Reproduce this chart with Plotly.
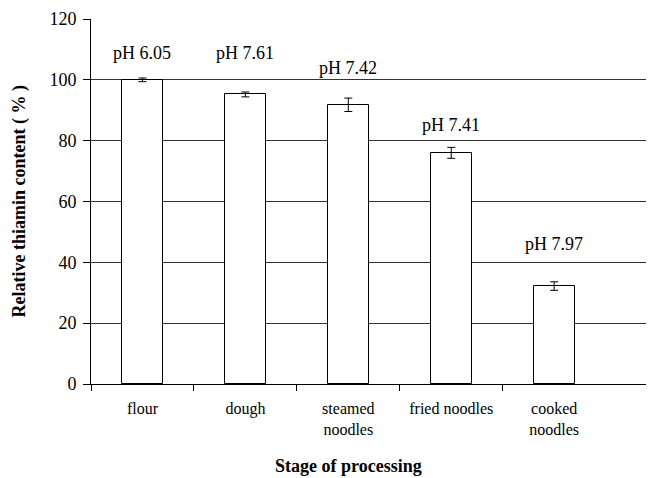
import plotly.graph_objects as go

categories = ["flour", "dough", "steamed<br>noodles", "fried noodles", "cooked<br>noodles"]
values = [100.0, 95.2, 91.8, 76.0, 32.2]
errors = [0.6, 0.8, 2.2, 1.8, 1.4]
ph_labels = ["pH 6.05", "pH 7.61", "pH 7.42", "pH 7.41", "pH 7.97"]
ph_label_y = [108.8, 108.8, 104.0, 85.0, 46.0]
y_ticks = [0, 20, 40, 60, 80, 100, 120]

x = list(range(len(categories)))
boundaries = [i - 0.5 for i in range(len(categories))]
serif = "Liberation Serif, Times New Roman, serif"

# page body has an 8px default margin; compensate so the picture lands in place
OFF = 8
W, H = 654 - OFF, 478 - OFF
L, R, T, B = 91 - OFF, 0, 19 - OFF, 94
pw, ph = W - L - R, H - T - B
x_range = [-0.5, 4.97]

fig = go.Figure()
fig.add_trace(go.Bar(
    x=x, y=values, width=0.4,
    marker=dict(color="white", line=dict(color="black", width=1)),
    error_y=dict(type="data", array=errors, visible=True, color="black", thickness=1, width=4),
    showlegend=False,
))
# invisible companion trace so the label axis is drawn
fig.add_trace(go.Scatter(x=x, y=values, xaxis="x2", mode="markers",
                         marker=dict(opacity=0), hoverinfo="skip", showlegend=False))

for xi, lab, ly in zip(x, ph_labels, ph_label_y):
    fig.add_annotation(x=xi, y=ly, text=lab, showarrow=False, xref="x", yref="y",
                       font=dict(family=serif, size=18, color="black"))

fig.add_annotation(x=(len(categories) - 1) / 2, xref="x",
                   y=-(466 - 384) / ph, yref="paper", yanchor="middle",
                   text="<b>Stage of processing</b>", showarrow=False,
                   font=dict(family=serif, size=18, color="black"))
fig.add_annotation(x=-(91 - 19) / pw, xref="paper", xanchor="center",
                   y=0.5, yref="paper", yanchor="middle", textangle=-90,
                   text="<b>Relative thiamin content ( % )</b>", showarrow=False,
                   font=dict(family=serif, size=18, color="black"))

fig.update_layout(
    width=W, height=H,
    margin=dict(l=L, r=R, t=T, b=B, autoexpand=False),
    paper_bgcolor="white", plot_bgcolor="white",
    font=dict(family=serif, size=16, color="black"),
    bargap=0,
    xaxis=dict(
        range=x_range, tickmode="array", tickvals=boundaries, ticktext=[""] * len(boundaries),
        ticks="outside", ticklen=6, tickwidth=1, tickcolor="black",
        showgrid=False, showline=True, linecolor="black", linewidth=1,
        zeroline=False, automargin=False,
    ),
    xaxis2=dict(
        range=x_range, overlaying="x", anchor="y", side="bottom",
        tickmode="array", tickvals=x, ticktext=categories, ticks="",
        tickfont=dict(family=serif, size=16), ticklabelstandoff=13,
        showgrid=False, showline=False, zeroline=False, automargin=False,
    ),
    yaxis=dict(
        range=[0, 120], tickmode="array", tickvals=y_ticks,
        ticks="outside", ticklen=7, tickcolor="black",
        showgrid=True, gridcolor="#333333", gridwidth=1,
        showline=True, linecolor="black", linewidth=1,
        zeroline=False, automargin=False, ticklabelstandoff=3,
        tickfont=dict(family=serif, size=18),
    ),
)

fig.write_html("out.html")
